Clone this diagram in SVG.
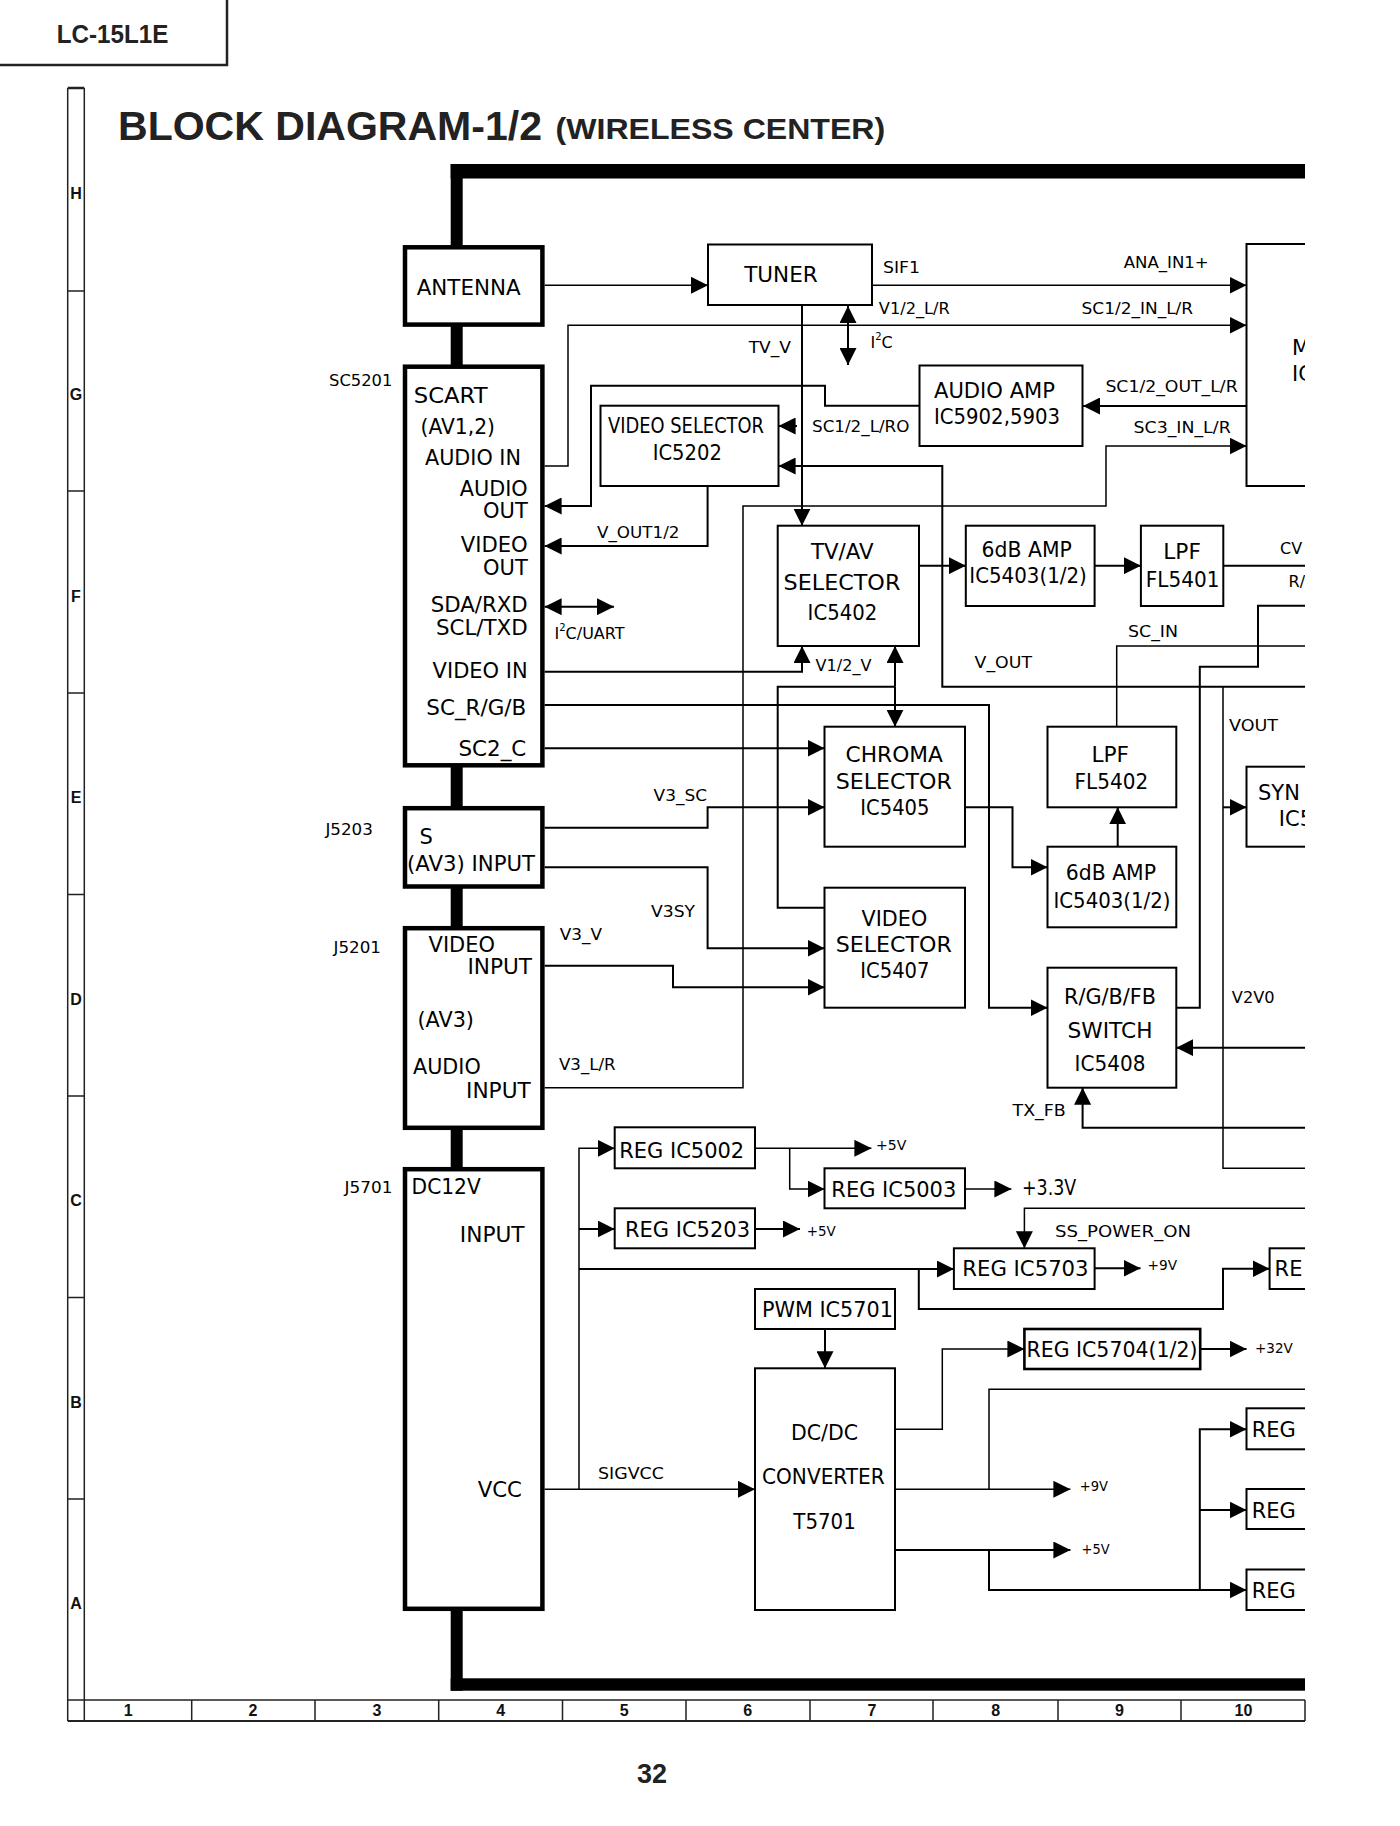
<svg xmlns="http://www.w3.org/2000/svg" width="1400" height="1826" viewBox="0 0 1400 1826">
<defs>
<style>
text{font-family:"DejaVu Sans","Liberation Sans",sans-serif;fill:#000}
.b{font-size:21px}
.s{font-size:16px}
.v{font-size:14px}
.hd{font-family:"Liberation Sans",Arial,sans-serif;font-weight:bold;fill:#222}
.fr{font-family:"Liberation Sans",Arial,sans-serif;font-weight:bold;font-size:16px;text-anchor:middle;fill:#111}
.tk{fill:#fff;stroke:#000;stroke-width:4.5}
.tn{fill:#fff;stroke:#000;stroke-width:2}
.ln{fill:none;stroke:#000;stroke-width:2}
.lt{fill:none;stroke:#000;stroke-width:1.5}
.a{marker-end:url(#ah)}
.a2{marker-start:url(#ah);marker-end:url(#ah)}
.fl{fill:none;stroke:#222;stroke-width:1.5}
</style>
<marker id="ah" markerUnits="userSpaceOnUse" markerWidth="17" markerHeight="17" refX="17" refY="8.5" orient="auto-start-reverse" viewBox="0 0 17 17"><path d="M0,0 L17,8.5 L0,17 z" fill="#000"/></marker>
<clipPath id="clip"><rect x="0" y="0" width="1305" height="1826"/></clipPath>
</defs>
<rect x="0" y="0" width="1400" height="1826" fill="#fff"/>

<g id="frame">
<path class="fl" style="stroke-width:2.5" d="M0 65 H227 V0"/>
<text class="hd" x="56.7" y="43.3" style="font-size:25px" textLength="111.6" lengthAdjust="spacingAndGlyphs">LC-15L1E</text>
<text class="hd" x="118" y="139.5" style="font-size:41px" textLength="424" lengthAdjust="spacingAndGlyphs">BLOCK DIAGRAM-1/2</text>
<text class="hd" x="555.6" y="138.5" style="font-size:30px" textLength="329.6" lengthAdjust="spacingAndGlyphs">(WIRELESS CENTER)</text>
<path class="fl" d="M67.7 88 V1721 M84.3 88 V1700 M67.7 291 H84.3 M67.7 491 H84.3 M67.7 693 H84.3 M67.7 894.5 H84.3 M67.7 1096 H84.3 M67.7 1297.5 H84.3 M67.7 1499 H84.3"/>
<path class="fl" style="stroke-width:2.5" d="M67.7 88 H84.3"/>
<path class="fl" d="M67.7 1700 H1305 M1305 1700 V1721 M84.3 1700 V1721 M191.7 1700 V1721 M315 1700 V1721 M438.7 1700 V1721 M562.5 1700 V1721 M686 1700 V1721 M810 1700 V1721 M933 1700 V1721 M1058 1700 V1721 M1181 1700 V1721"/>
<path class="fl" style="stroke-width:2.2" d="M67.7 1721 H1305"/>
<text class="fr" x="76" y="198.7">H</text>
<text class="fr" x="76" y="400.2">G</text>
<text class="fr" x="76" y="601.7">F</text>
<text class="fr" x="76" y="803.2">E</text>
<text class="fr" x="76" y="1004.7">D</text>
<text class="fr" x="76" y="1206.2">C</text>
<text class="fr" x="76" y="1407.7">B</text>
<text class="fr" x="76" y="1609.2">A</text>
<text class="fr" x="128.3" y="1716">1</text>
<text class="fr" x="253" y="1716">2</text>
<text class="fr" x="377" y="1716">3</text>
<text class="fr" x="500.7" y="1716">4</text>
<text class="fr" x="624.2" y="1716">5</text>
<text class="fr" x="747.8" y="1716">6</text>
<text class="fr" x="872" y="1716">7</text>
<text class="fr" x="995.7" y="1716">8</text>
<text class="fr" x="1119.4" y="1716">9</text>
<text class="fr" x="1243.5" y="1716">10</text>
<text class="hd" x="652" y="1782.7" style="font-size:27px" text-anchor="middle">32</text>
</g>

<g clip-path="url(#clip)">
<g id="bus">
<rect x="450.7" y="164" width="854.3" height="14.5" fill="#000"/>
<rect x="450.7" y="164" width="12" height="1526.7" fill="#000"/>
<rect x="450.7" y="1678.3" width="854.3" height="12.4" fill="#000"/>
</g>

<g id="connectors">
<path class="lt a" d="M544.6 285.3 H708"/>
<path class="lt a" d="M872 285.3 H1246.5"/>
<path class="lt a" d="M544.6 466 H568 V325.3 H1246.5"/>
<path class="ln a" d="M802 305 V525.7"/>
<path class="ln a2" d="M848 306 V365"/>
<path class="ln a" d="M1246.5 406 H1083"/>
<path class="ln a" d="M919.5 405.7 H825 V385.7 H591 V506 H544.6"/>
<path class="ln a" d="M797 426 H778.6"/>
<path class="ln a" d="M1305 686.7 H942.3 V466 H778.6"/>
<path class="ln a" d="M707.6 486 V546 H544.6"/>
<path class="ln a2" d="M544.6 606.7 H614"/>
<path class="ln a" d="M544.6 671.7 H802 V646"/>
<path class="lt a" d="M544.6 1087.7 H743 V506 H1106 V446 H1246.5"/>
<path class="ln" d="M824.5 907.7 H777.7 V686.7 H895"/>
<path class="ln a" d="M895 686.7 V646"/>
<path class="ln a" d="M895 686.7 V726.7"/>
<path class="ln a" d="M919 565.7 H965.8"/>
<path class="ln a" d="M1094.6 565.7 H1140.9"/>
<path class="ln" d="M1223.3 565.7 H1305"/>
<path class="ln" d="M1176.3 1007.7 H1199.8 V666.7 H1258 V605.7 H1305"/>
<path class="lt" d="M1305 646 H1116.7 V726.7"/>
<path class="lt" d="M1305 1168.3 H1223 V686.7"/>
<path class="ln a" d="M1223 807.3 H1246.5"/>
<path class="ln a" d="M544.6 705 H989 V1007.7 H1047.5"/>
<path class="ln a" d="M544.6 748.3 H824.5"/>
<path class="ln a" d="M544.6 827.7 H707.6 V807.3 H824.5"/>
<path class="ln a" d="M544.6 867.3 H707.6 V948.3 H824.5"/>
<path class="ln a" d="M544.6 965.7 H673 V987.3 H824.5"/>
<path class="ln a" d="M965 807.3 H1012.5 V867.3 H1047.5"/>
<path class="ln a" d="M1117.7 846.7 V807.3"/>
<path class="ln a" d="M1305 1047.7 H1176.3"/>
<path class="ln a" d="M1305 1127.7 H1082.6 V1087.7"/>
<path class="lt a" d="M544.6 1489.3 H755"/>
<path class="lt a" d="M579 1489.3 V1148.3 H614.7"/>
<path class="ln a" d="M579 1229 H614.7"/>
<path class="ln a" d="M579 1269 H953.9"/>
<path class="lt a" d="M755 1148.3 H871.4"/>
<path class="lt a" d="M789.7 1148.3 V1189 H824.5"/>
<path class="lt a" d="M965 1189 H1011.4"/>
<path class="ln a" d="M755 1229 H800"/>
<path class="lt a" d="M1305 1208.3 H1024.4 V1248.3"/>
<path class="ln a" d="M1094.6 1268.3 H1140.5"/>
<path class="ln a" d="M918.8 1269 V1309 H1223 V1268.7 H1269.6"/>
<path class="ln a" d="M825 1329 V1368.3"/>
<path class="lt a" d="M895 1429.3 H942.3 V1349 H1024.4"/>
<path class="ln a" d="M1200.2 1349 H1246.5"/>
<path class="lt a" d="M895 1489.3 H1070.4"/>
<path class="lt" d="M989 1489.3 V1389.3 H1305"/>
<path class="ln a" d="M895 1550 H1070.4"/>
<path class="ln a" d="M989 1550 V1590 H1246.5"/>
<path class="ln a" d="M1199.8 1590 V1429.3 H1246.5"/>
<path class="ln a" d="M1199.8 1510 H1246.5"/>

<text class="s" x="883" y="272.5" textLength="37" lengthAdjust="spacingAndGlyphs">SIF1</text>
<text class="s" x="1123.7" y="267.8" textLength="85" lengthAdjust="spacingAndGlyphs">ANA_IN1+</text>
<text class="s" x="878.8" y="313.8" textLength="71" lengthAdjust="spacingAndGlyphs">V1/2_L/R</text>
<text class="s" x="1081.6" y="313.8" textLength="111.5" lengthAdjust="spacingAndGlyphs">SC1/2_IN_L/R</text>
<text class="s" x="748.7" y="352.8" textLength="42.3" lengthAdjust="spacingAndGlyphs">TV_V</text>
<text class="s" x="870.5" y="347.7">I<tspan style="font-size:10px" dy="-8">2</tspan><tspan dy="8">C</tspan></text>
<text class="s" x="1105.4" y="391.5" textLength="132.3" lengthAdjust="spacingAndGlyphs">SC1/2_OUT_L/R</text>
<text class="s" x="1133.5" y="432.5" textLength="97.2" lengthAdjust="spacingAndGlyphs">SC3_IN_L/R</text>
<text class="s" x="812" y="431.5" textLength="97.4" lengthAdjust="spacingAndGlyphs">SC1/2_L/RO</text>
<text class="s" x="597" y="537.5" textLength="82.5" lengthAdjust="spacingAndGlyphs">V_OUT1/2</text>
<text class="s" x="554.5" y="638.8">I<tspan style="font-size:10px" dy="-8">2</tspan><tspan dy="8">C/UART</tspan></text>
<text class="s" x="815.6" y="670.8" textLength="55.8" lengthAdjust="spacingAndGlyphs">V1/2_V</text>
<text class="s" x="974.6" y="667.5" textLength="57.4" lengthAdjust="spacingAndGlyphs">V_OUT</text>
<text class="s" x="1128" y="636.5" textLength="50" lengthAdjust="spacingAndGlyphs">SC_IN</text>
<text class="s" x="1280" y="553.8">CV</text>
<text class="s" x="1288.6" y="586.5">R/</text>
<text class="s" x="1229" y="730.8" textLength="49" lengthAdjust="spacingAndGlyphs">VOUT</text>
<text class="s" x="653.6" y="800.8" textLength="53.4" lengthAdjust="spacingAndGlyphs">V3_SC</text>
<text class="s" x="651" y="916.5" textLength="44" lengthAdjust="spacingAndGlyphs">V3SY</text>
<text class="s" x="559.8" y="940" textLength="42.2" lengthAdjust="spacingAndGlyphs">V3_V</text>
<text class="s" x="559" y="1069.8" textLength="56.6" lengthAdjust="spacingAndGlyphs">V3_L/R</text>
<text class="s" x="1231.8" y="1002.5" textLength="42.8" lengthAdjust="spacingAndGlyphs">V2V0</text>
<text class="s" x="1012.5" y="1115.8" textLength="53.3" lengthAdjust="spacingAndGlyphs">TX_FB</text>
<text class="s" x="598" y="1479" style="font-size:15px" textLength="65.8" lengthAdjust="spacingAndGlyphs">SIGVCC</text>
<text class="s" x="1055" y="1236.8" textLength="136" lengthAdjust="spacingAndGlyphs">SS_POWER_ON</text>
<text class="v" x="876" y="1150" textLength="30.3" lengthAdjust="spacingAndGlyphs">+5V</text>
<text class="v" x="1022" y="1194.5" style="font-size:21px" textLength="54.3" lengthAdjust="spacingAndGlyphs">+3.3V</text>
<text class="v" x="806.7" y="1236" textLength="29" lengthAdjust="spacingAndGlyphs">+5V</text>
<text class="v" x="1147.5" y="1270" textLength="29.5" lengthAdjust="spacingAndGlyphs">+9V</text>
<text class="v" x="1255" y="1352.8" textLength="37.8" lengthAdjust="spacingAndGlyphs">+32V</text>
<text class="v" x="1079.8" y="1490.8" textLength="28.2" lengthAdjust="spacingAndGlyphs">+9V</text>
<text class="v" x="1081.6" y="1554" textLength="28" lengthAdjust="spacingAndGlyphs">+5V</text>
</g>

<g id="antenna">
<rect class="tk" x="405" y="247.3" width="137.4" height="77.3"/>
<text class="b" x="416.7" y="295" textLength="104" lengthAdjust="spacingAndGlyphs">ANTENNA</text>
</g>
<g id="scart">
<rect class="tk" x="405" y="366.7" width="137.4" height="398.6"/>
<text class="s" x="329" y="385.8" textLength="63.4" lengthAdjust="spacingAndGlyphs">SC5201</text>
<text class="b" x="413.8" y="403.3" textLength="73.7" lengthAdjust="spacingAndGlyphs">SCART</text>
<text class="b" x="420.5" y="434" textLength="74.5" lengthAdjust="spacingAndGlyphs">(AV1,2)</text>
<text class="b" x="425" y="464.7" textLength="96" lengthAdjust="spacingAndGlyphs">AUDIO IN</text>
<text class="b" x="459.8" y="495.7" textLength="67.9" lengthAdjust="spacingAndGlyphs">AUDIO</text>
<text class="b" x="483" y="517.7" textLength="44.7" lengthAdjust="spacingAndGlyphs">OUT</text>
<text class="b" x="460.7" y="551.7" textLength="67" lengthAdjust="spacingAndGlyphs">VIDEO</text>
<text class="b" x="483" y="574.7" textLength="44.7" lengthAdjust="spacingAndGlyphs">OUT</text>
<text class="b" x="430.8" y="611.7" textLength="96.9" lengthAdjust="spacingAndGlyphs">SDA/RXD</text>
<text class="b" x="436" y="634.7" textLength="91.7" lengthAdjust="spacingAndGlyphs">SCL/TXD</text>
<text class="b" x="432.6" y="678.4" textLength="95.1" lengthAdjust="spacingAndGlyphs">VIDEO IN</text>
<text class="b" x="426.3" y="714.7" textLength="100" lengthAdjust="spacingAndGlyphs">SC_R/G/B</text>
<text class="b" x="458.5" y="756" textLength="67.8" lengthAdjust="spacingAndGlyphs">SC2_C</text>
</g>
<g id="s-input">
<rect class="tk" x="405" y="808.2" width="137.4" height="78.3"/>
<text class="s" x="325.4" y="834.8" textLength="47.4" lengthAdjust="spacingAndGlyphs">J5203</text>
<text class="b" x="419.6" y="843.7">S</text>
<text class="b" x="407" y="871" textLength="128" lengthAdjust="spacingAndGlyphs">(AV3) INPUT</text>
</g>
<g id="av3-input">
<rect class="tk" x="405" y="928.2" width="137.4" height="199.6"/>
<text class="s" x="333.5" y="952.5" textLength="47.5" lengthAdjust="spacingAndGlyphs">J5201</text>
<text class="b" x="428.6" y="952" textLength="66.4" lengthAdjust="spacingAndGlyphs">VIDEO</text>
<text class="b" x="467.4" y="974" textLength="64.6" lengthAdjust="spacingAndGlyphs">INPUT</text>
<text class="b" x="417.4" y="1027" textLength="56.6" lengthAdjust="spacingAndGlyphs">(AV3)</text>
<text class="b" x="413" y="1074.4" textLength="67.8" lengthAdjust="spacingAndGlyphs">AUDIO</text>
<text class="b" x="466" y="1097.7" textLength="64.8" lengthAdjust="spacingAndGlyphs">INPUT</text>
</g>
<g id="dc12v">
<rect class="tk" x="405" y="1169.2" width="137.4" height="439.6"/>
<text class="s" x="344.6" y="1192.5" textLength="47.8" lengthAdjust="spacingAndGlyphs">J5701</text>
<text class="b" x="411.6" y="1194.4" textLength="69.2" lengthAdjust="spacingAndGlyphs">DC12V</text>
<text class="b" x="459.8" y="1242" textLength="64.8" lengthAdjust="spacingAndGlyphs">INPUT</text>
<text class="b" x="477.7" y="1497" textLength="44.3" lengthAdjust="spacingAndGlyphs">VCC</text>
</g>
<g id="tuner">
<rect class="tn" x="708" y="244.5" width="164" height="60.5"/>
<text class="b" x="744.2" y="282.3" textLength="73.6" lengthAdjust="spacingAndGlyphs">TUNER</text>
</g>
<g id="main-ic">
<rect class="tn" x="1246.5" y="244" width="100" height="242"/>
<text class="b" x="1292" y="354.7">M</text>
<text class="b" x="1292" y="380.7">IC</text>
</g>
<g id="audio-amp">
<rect class="tn" x="919.5" y="365.5" width="163" height="80.5"/>
<text class="b" x="934" y="397.7" textLength="121" lengthAdjust="spacingAndGlyphs">AUDIO AMP</text>
<text class="b" x="934" y="424.4" textLength="126" lengthAdjust="spacingAndGlyphs">IC5902,5903</text>
</g>
<g id="video-sel-5202">
<rect class="tn" x="600.5" y="405.7" width="178" height="80.3"/>
<text class="b" x="608" y="432.7" textLength="156" lengthAdjust="spacingAndGlyphs">VIDEO SELECTOR</text>
<text class="b" x="652.7" y="459.7" textLength="69.2" lengthAdjust="spacingAndGlyphs">IC5202</text>
</g>
<g id="tvav-sel">
<rect class="tn" x="777.7" y="525.7" width="141.3" height="120.3"/>
<text class="b" x="811" y="559.4" textLength="62.6" lengthAdjust="spacingAndGlyphs">TV/AV</text>
<text class="b" x="783.5" y="590" textLength="116.9" lengthAdjust="spacingAndGlyphs">SELECTOR</text>
<text class="b" x="807.6" y="620.4" textLength="69.6" lengthAdjust="spacingAndGlyphs">IC5402</text>
</g>
<g id="amp-5403a">
<rect class="tn" x="965.8" y="525.7" width="128.8" height="80.3"/>
<text class="b" x="981.6" y="556.7" textLength="90.2" lengthAdjust="spacingAndGlyphs">6dB AMP</text>
<text class="b" x="969.3" y="582.7" textLength="117.5" lengthAdjust="spacingAndGlyphs">IC5403(1/2)</text>
</g>
<g id="lpf-5401">
<rect class="tn" x="1140.9" y="525.7" width="82.4" height="80.3"/>
<text class="b" x="1163.3" y="559.4" textLength="37.6" lengthAdjust="spacingAndGlyphs">LPF</text>
<text class="b" x="1145.8" y="586.7" textLength="73.7" lengthAdjust="spacingAndGlyphs">FL5401</text>
</g>
<g id="chroma-sel">
<rect class="tn" x="824.5" y="726.7" width="140.5" height="120"/>
<text class="b" x="845.5" y="761.7" textLength="97.4" lengthAdjust="spacingAndGlyphs">CHROMA</text>
<text class="b" x="835.7" y="788.7" textLength="116.1" lengthAdjust="spacingAndGlyphs">SELECTOR</text>
<text class="b" x="860.3" y="815" textLength="69.2" lengthAdjust="spacingAndGlyphs">IC5405</text>
</g>
<g id="video-sel-5407">
<rect class="tn" x="824.5" y="887.7" width="140.5" height="120"/>
<text class="b" x="861.6" y="926" textLength="65.6" lengthAdjust="spacingAndGlyphs">VIDEO</text>
<text class="b" x="835.7" y="952" textLength="116.1" lengthAdjust="spacingAndGlyphs">SELECTOR</text>
<text class="b" x="860.3" y="978.4" textLength="69.2" lengthAdjust="spacingAndGlyphs">IC5407</text>
</g>
<g id="lpf-5402">
<rect class="tn" x="1047.5" y="726.7" width="128.8" height="80.6"/>
<text class="b" x="1091.4" y="762" textLength="37.6" lengthAdjust="spacingAndGlyphs">LPF</text>
<text class="b" x="1074.6" y="788.7" textLength="73.6" lengthAdjust="spacingAndGlyphs">FL5402</text>
</g>
<g id="amp-5403b">
<rect class="tn" x="1047.5" y="846.7" width="128.8" height="80.6"/>
<text class="b" x="1065.8" y="880" textLength="90.2" lengthAdjust="spacingAndGlyphs">6dB AMP</text>
<text class="b" x="1053.5" y="907.7" textLength="116.9" lengthAdjust="spacingAndGlyphs">IC5403(1/2)</text>
</g>
<g id="rgb-switch">
<rect class="tn" x="1047.5" y="967.7" width="128.8" height="120"/>
<text class="b" x="1064" y="1004.4" textLength="92" lengthAdjust="spacingAndGlyphs">R/G/B/FB</text>
<text class="b" x="1067.5" y="1037.7" textLength="85" lengthAdjust="spacingAndGlyphs">SWITCH</text>
<text class="b" x="1074.6" y="1071" textLength="70.8" lengthAdjust="spacingAndGlyphs">IC5408</text>
</g>
<g id="sync-ic">
<rect class="tn" x="1246.5" y="766.7" width="100" height="80"/>
<text class="b" x="1258" y="800">SYN</text>
<text class="b" x="1278.8" y="826">IC5</text>
</g>
<g id="reg-5002">
<rect class="tn" x="614.7" y="1127.3" width="140.3" height="41"/>
<text class="b" x="619.2" y="1157.7" textLength="125" lengthAdjust="spacingAndGlyphs">REG IC5002</text>
</g>
<g id="reg-5003">
<rect class="tn" x="824.5" y="1168.3" width="140.5" height="40"/>
<text class="b" x="831.3" y="1196.7" textLength="125" lengthAdjust="spacingAndGlyphs">REG IC5003</text>
</g>
<g id="reg-5203">
<rect class="tn" x="614.7" y="1208.3" width="140.3" height="40"/>
<text class="b" x="625" y="1236.7" textLength="125" lengthAdjust="spacingAndGlyphs">REG IC5203</text>
</g>
<g id="reg-5703">
<rect class="tn" x="953.9" y="1248.3" width="140.7" height="40.7"/>
<text class="b" x="962.3" y="1276" textLength="126.3" lengthAdjust="spacingAndGlyphs">REG IC5703</text>
</g>
<g id="reg-right-1">
<rect class="tn" x="1269.6" y="1248.3" width="100" height="40.7"/>
<text class="b" x="1274.6" y="1275.7">RE</text>
</g>
<g id="pwm-5701">
<rect class="tn" x="755" y="1289" width="140" height="40"/>
<text class="b" x="762" y="1317" textLength="130.9" lengthAdjust="spacingAndGlyphs">PWM IC5701</text>
</g>
<g id="dcdc">
<rect class="tn" x="755" y="1368.3" width="140" height="241.7"/>
<text class="b" x="791" y="1440" textLength="67" lengthAdjust="spacingAndGlyphs">DC/DC</text>
<text class="b" x="762" y="1484.4" textLength="122.8" lengthAdjust="spacingAndGlyphs">CONVERTER</text>
<text class="b" x="793.3" y="1528.7" textLength="62.5" lengthAdjust="spacingAndGlyphs">T5701</text>
</g>
<g id="reg-5704">
<rect class="tn" style="stroke-width:2.6" x="1024.4" y="1329" width="175.8" height="40"/>
<text class="b" x="1026.5" y="1356.7" textLength="170.9" lengthAdjust="spacingAndGlyphs">REG IC5704(1/2)</text>
</g>
<g id="reg-right-2">
<rect class="tn" x="1246.5" y="1408.3" width="100" height="41"/>
<text class="b" x="1251.7" y="1436.7">REG</text>
</g>
<g id="reg-right-3">
<rect class="tn" x="1246.5" y="1489" width="100" height="40"/>
<text class="b" x="1251.7" y="1517.7">REG</text>
</g>
<g id="reg-right-4">
<rect class="tn" x="1246.5" y="1569.5" width="100" height="40.5"/>
<text class="b" x="1251.7" y="1597.7">REG</text>
</g>
</g>
</svg>
